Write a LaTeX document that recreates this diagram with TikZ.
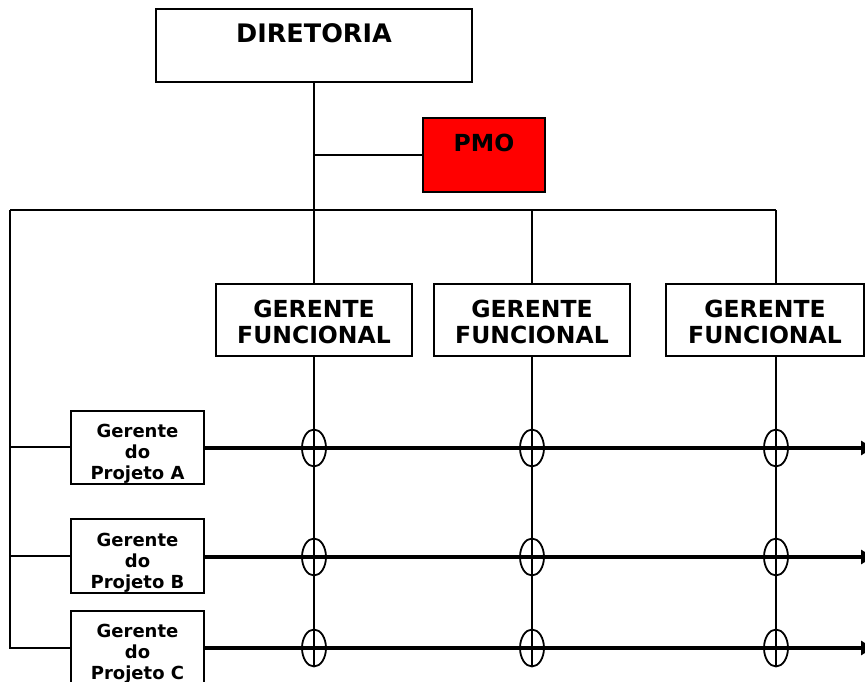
\documentclass[tikz,border=0pt]{standalone}
\usepackage{fontspec}
\setmainfont{DejaVu Sans}
\usetikzlibrary{shapes.geometric,arrows.meta}
\begin{document}
\begin{tikzpicture}[x=1pt,y=-1pt,
  box/.style={draw=black,line width=2pt,inner sep=0pt,fill=white},
  big/.style={font=\fontsize{23.5}{26}\selectfont\bfseries,inner sep=0pt,align=center},
  small/.style={font=\fontsize{18}{21}\selectfont\bfseries,inner sep=0pt,align=center},
  thin/.style={line width=2pt},
  thick/.style={line width=3.6pt},
  cross/.style={draw,ellipse,line width=1.8pt,minimum width=24pt,minimum height=37pt,inner sep=0pt}]
\useasboundingbox (0,0) rectangle (865,682);
% boxes
\node[box,minimum width=316,minimum height=73] (dir) at (314,46) {};
\node[box,fill={rgb,255:red,255;green,0;blue,0},minimum width=122,minimum height=73] (pmo) at (484,155) {};
\node[box,minimum width=196,minimum height=72] (g1) at (314,320) {};
\node[box,minimum width=196,minimum height=72] (g2) at (532,320) {};
\node[box,minimum width=198,minimum height=72] (g3) at (765,320) {};
\node[box,minimum width=133,minimum height=73] (pa) at (137.5,447) {};
\node[box,minimum width=133,minimum height=74] (pb) at (137.5,556) {};
\node[box,minimum width=133,minimum height=74] (pc) at (137.5,648) {};
% texts
\node[big,font=\fontsize{25.5}{28}\selectfont\bfseries,anchor=base] (tdir) at (314,43) {DIRETORIA};
\node[big,anchor=base] (tpmo) at (484,152) {PMO};
\node[big,anchor=base] (tg1) at (314,343) {GERENTE\\FUNCIONAL};
\node[big,anchor=base] (tg2) at (532,343) {GERENTE\\FUNCIONAL};
\node[big,anchor=base] (tg3) at (765,343) {GERENTE\\FUNCIONAL};
\node[small,anchor=base] (tpa) at (137.5,479) {Gerente\\do\\Projeto A};
\node[small,anchor=base] (tpb) at (137.5,588) {Gerente\\do\\Projeto B};
\node[small,anchor=base] (tpc) at (137.5,679) {Gerente\\do\\Projeto C};
% coordinates
\coordinate (busL) at (10,210);
\coordinate (busR) at (776,210);
\coordinate (v3) at (776,356);
\coordinate (endA) at (873,448);
\coordinate (endB) at (873,557);
\coordinate (endC) at (873,648);
\coordinate (bot) at (0,666);
% connectors
\begin{scope}[thin]
\draw (dir.south) -- (g1.north);
\draw (pmo.west) -- (pmo.west -| dir.south);
\draw (busL) -- (busR);
\draw (busL) |- (pc.west);
\draw (busL |- pa.west) -- (pa.west);
\draw (busL |- pb.west) -- (pb.west);
\draw (g2.north |- busL) -- (g2.north);
\draw (busR) -- (busR |- g3.north);
\draw (g1.south) -- (g1.south |- bot);
\draw (g2.south) -- (g2.south |- bot);
\draw (v3) -- (v3 |- bot);
\end{scope}
\begin{scope}[thick,-{Triangle[length=12pt,width=14pt]}]
\draw (pa.east |- endA) -- (endA);
\draw (pb.east |- endB) -- (endB);
\draw (pc.east |- endC) -- (endC);
\end{scope}
% crossings
\node[cross] (xa1) at (g1.south |- endA) {};
\node[cross] (xa2) at (g2.south |- endA) {};
\node[cross] (xa3) at (v3 |- endA) {};
\node[cross] (xb1) at (g1.south |- endB) {};
\node[cross] (xb2) at (g2.south |- endB) {};
\node[cross] (xb3) at (v3 |- endB) {};
\node[cross] (xc1) at (g1.south |- endC) {};
\node[cross] (xc2) at (g2.south |- endC) {};
\node[cross] (xc3) at (v3 |- endC) {};
\end{tikzpicture}
\end{document}
